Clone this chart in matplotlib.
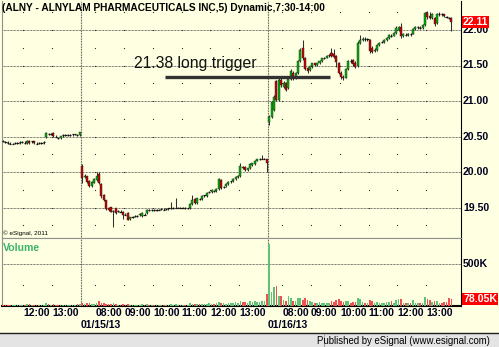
import matplotlib
matplotlib.use("Agg")
import matplotlib.pyplot as plt
from matplotlib.patches import Rectangle
import numpy as np

# ---------------- data ----------------
title = "(ALNY - ALNYLAM PHARMACEUTICALS INC,5) Dynamic,7:30-14:00"
session_dates = ["", "01/15/13", "01/16/13"]
session_start_min = [11 * 60 + 15, 7 * 60 + 30, 7 * 60 + 30]   # first bar time of each session
session_bars = [33, 78, 77]
hour_labels = [["12:00", "13:00"],
               ["08:00", "09:00", "10:00", "11:00", "12:00", "13:00"],
               ["08:00", "09:00", "10:00", "11:00", "12:00", "13:00"]]

# day 1 (01/14/13)
d1_open  = [20.44,20.43,20.42,20.41,20.40,20.40,20.41,20.41,20.42,20.42,20.41,20.44,20.42,20.43,20.41,20.40,20.41,20.41,
            20.49,20.54,20.53,20.55,20.51,20.49,20.48,20.51,20.52,20.52,20.52,20.52,20.52,20.53,20.52]
d1_close = [20.43,20.42,20.41,20.40,20.40,20.41,20.41,20.42,20.42,20.41,20.44,20.41,20.43,20.41,20.40,20.41,20.41,20.42,
            20.55,20.53,20.54,20.51,20.50,20.48,20.50,20.52,20.52,20.52,20.52,20.53,20.53,20.52,20.56]
d1_high  = [20.45,20.44,20.43,20.42,20.41,20.42,20.42,20.43,20.43,20.43,20.45,20.45,20.44,20.44,20.42,20.42,20.42,20.43,
            20.56,20.55,20.55,20.56,20.52,20.50,20.51,20.53,20.53,20.53,20.53,20.54,20.54,20.54,20.57]
d1_low   = [20.42,20.41,20.40,20.39,20.39,20.39,20.40,20.40,20.41,20.40,20.40,20.40,20.41,20.40,20.39,20.39,20.40,20.40,
            20.48,20.52,20.52,20.50,20.49,20.47,20.47,20.50,20.51,20.51,20.51,20.51,20.52,20.51,20.51]

# day 2 (01/15/13)
d2_open  = [20.09,19.93,19.94,19.88,19.80,19.85,19.89,19.97,19.83,19.68,19.60,19.49,19.50,19.45,19.49,19.44,19.45,19.44,
            19.41,19.42,19.34,19.36,19.37,19.38,19.39,19.38,19.41,19.42,19.47,19.46,19.47,19.46,19.47,19.47,19.48,19.47,
            19.48,19.49,19.49,19.50,19.50,19.50,19.50,19.50,19.49,19.49,19.55,19.62,19.56,19.63,19.62,19.66,19.66,19.71,
            19.72,19.74,19.73,19.76,19.89,19.78,19.80,19.83,19.86,19.87,19.90,19.93,19.94,20.07,20.07,20.03,20.05,20.10,
            20.11,20.16,20.18,20.19,20.19,20.18]
d2_close = [19.91,19.95,19.86,19.80,19.86,19.90,19.94,19.84,19.66,19.60,19.48,19.47,19.44,19.45,19.42,19.45,19.44,19.40,
            19.40,19.33,19.36,19.37,19.38,19.38,19.41,19.42,19.40,19.47,19.46,19.47,19.46,19.47,19.47,19.48,19.47,19.48,
            19.49,19.49,19.50,19.50,19.50,19.50,19.50,19.49,19.49,19.55,19.60,19.56,19.63,19.62,19.66,19.67,19.71,19.72,
            19.75,19.73,19.76,19.90,19.77,19.79,19.83,19.86,19.87,19.90,19.93,19.95,20.08,20.05,20.03,20.05,20.11,20.12,
            20.16,20.18,20.19,20.19,20.19,20.13]
d2_high  = [20.11,19.97,19.95,19.89,19.87,19.92,20.00,20.00,19.84,19.69,19.61,19.51,19.51,19.47,19.50,19.46,19.46,19.45,
            19.42,19.43,19.37,19.38,19.39,19.39,19.42,19.43,19.42,19.48,19.48,19.48,19.48,19.48,19.48,19.49,19.49,19.49,
            19.50,19.58,19.51,19.63,19.51,19.51,19.51,19.51,19.50,19.56,19.68,19.63,19.64,19.64,19.67,19.68,19.72,19.73,
            19.76,19.75,19.77,19.92,19.90,19.80,19.84,19.87,19.88,19.91,19.94,19.96,20.12,20.09,20.08,20.06,20.12,20.13,
            20.17,20.19,20.20,20.24,20.20,20.19]
d2_low   = [19.85,19.92,19.85,19.79,19.79,19.84,19.88,19.83,19.64,19.59,19.46,19.45,19.43,19.22,19.41,19.43,19.43,19.34,
            19.39,19.32,19.33,19.35,19.36,19.37,19.38,19.37,19.39,19.41,19.45,19.45,19.45,19.45,19.46,19.46,19.46,19.46,
            19.47,19.48,19.48,19.49,19.49,19.49,19.49,19.48,19.48,19.48,19.54,19.55,19.55,19.61,19.61,19.65,19.65,19.70,
            19.71,19.72,19.72,19.75,19.76,19.77,19.79,19.82,19.85,19.86,19.89,19.92,19.93,20.04,20.02,20.02,20.04,20.09,
            20.10,20.15,20.17,20.18,20.18,20.00]

# day 3 (01/16/13)
d3_open  = [20.70,20.77,20.88,21.28,21.02,21.30,21.20,21.25,21.18,21.31,21.40,21.33,21.40,21.57,21.74,21.60,21.46,21.43,
            21.49,21.53,21.51,21.53,21.57,21.60,21.61,21.64,21.68,21.66,21.63,21.54,21.40,21.34,21.33,21.45,21.57,21.58,
            21.54,21.50,21.82,21.86,21.88,21.87,21.86,21.75,21.70,21.72,21.79,21.82,21.83,21.86,21.89,21.93,21.92,21.96,
            22.00,22.04,21.92,21.94,21.93,21.95,21.95,22.02,22.04,22.04,22.03,22.07,22.24,22.20,22.17,22.17,22.10,22.22,
            22.23,22.22,22.19,22.18,22.17]
d3_close = [20.77,20.98,21.06,21.02,21.30,21.22,21.26,21.16,21.31,21.42,21.33,21.40,21.57,21.72,21.60,21.45,21.42,21.49,
            21.53,21.51,21.53,21.57,21.60,21.61,21.64,21.65,21.63,21.62,21.55,21.40,21.34,21.32,21.45,21.57,21.56,21.52,
            21.48,21.82,21.86,21.88,21.87,21.88,21.70,21.69,21.72,21.79,21.82,21.83,21.86,21.89,21.93,21.92,21.96,22.03,
            22.04,21.91,21.94,21.93,21.95,21.94,22.02,22.04,22.04,22.03,22.07,22.24,22.18,22.17,22.23,22.08,22.22,22.23,
            22.22,22.20,22.18,22.17,22.11]
d3_high  = [20.80,21.00,21.08,21.30,21.32,21.33,21.28,21.27,21.33,21.45,21.42,21.41,21.58,21.74,21.86,21.62,21.48,21.50,
            21.54,21.54,21.54,21.58,21.61,21.62,21.65,21.66,21.75,21.73,21.65,21.55,21.42,21.36,21.46,21.58,21.59,21.59,
            21.56,21.84,21.93,21.90,21.90,21.89,21.88,21.77,21.74,21.80,21.83,21.85,21.87,21.90,21.94,21.95,21.97,22.05,
            22.06,22.10,21.96,21.96,21.96,21.96,22.03,22.05,22.06,22.05,22.08,22.26,22.27,22.25,22.24,22.19,22.24,22.25,
            22.24,22.23,22.20,22.19,22.18]
d3_low   = [20.66,20.76,20.86,21.00,21.00,21.20,21.18,21.14,21.17,21.30,21.30,21.31,21.38,21.55,21.58,21.43,21.40,21.42,
            21.47,21.50,21.50,21.52,21.55,21.59,21.60,21.62,21.62,21.60,21.48,21.38,21.31,21.29,21.32,21.44,21.53,21.50,
            21.46,21.48,21.80,21.84,21.85,21.85,21.68,21.67,21.69,21.71,21.78,21.81,21.82,21.85,21.88,21.90,21.91,21.95,
            21.98,21.89,21.90,21.91,21.92,21.92,21.94,22.00,22.02,22.02,22.02,22.05,22.16,22.15,22.16,22.06,22.09,22.20,
            22.20,22.19,22.17,22.16,21.98]

# volume in thousands
d1_vol = [15,10,8,12,10,8,10,12,15,10,20,25,10,8,12,10,8,15,30,20,15,18,10,8,10,12,10,8,10,12,15,20,28]
d2_vol = [40,25,30,35,20,25,30,55,35,30,25,20,25,30,20,15,15,20,15,25,15,12,10,12,15,20,15,25,15,10,12,10,10,12,10,12,
          15,20,12,25,15,10,12,15,10,30,25,20,25,20,25,20,25,30,20,25,30,45,40,30,25,30,35,30,45,40,60,45,50,40,55,45,
          60,50,45,55,60,140]
d3_vol = [740,170,230,240,120,125,70,65,115,90,60,55,95,90,70,95,75,55,45,40,35,45,40,30,35,40,55,50,75,85,60,45,55,60,
          40,50,45,95,80,45,35,40,70,55,35,45,40,35,40,45,50,55,35,75,80,85,40,30,35,30,75,40,35,30,40,105,80,70,50,60,
          55,40,35,45,50,90,78.05]

trigger_level = 21.335
trigger_text = "21.38 long trigger"
last_price_text = "22.11"
last_vol_text = "78.05K"
price_ticks = [19.50, 20.00, 20.50, 21.00, 21.50, 22.00]

# ---------------- assemble ----------------
O = np.array(d1_open + d2_open + d3_open)
C = np.array(d1_close + d2_close + d3_close)
H = np.array(d1_high + d2_high + d3_high)
L = np.array(d1_low + d2_low + d3_low)
V = np.array(d1_vol + d2_vol + d3_vol)
n = len(O)
x = np.arange(n)

W, Hpx = 499, 347
fig = plt.figure(figsize=(W / 100, Hpx / 100), dpi=100)
BG = "#FFFFE1"
fig.patch.set_facecolor(BG)

def fx(px):
    return px / W

def fy(py):
    return 1 - py / Hpx

FONT = "Liberation Sans"

px_left, px_right = 2, 461
ax = fig.add_axes([fx(px_left), fy(238), fx(px_right - px_left), (238 - 1) / Hpx])
axv = fig.add_axes([fx(px_left), fy(306), fx(px_right - px_left), (306 - 238) / Hpx])

bar_px = 2.397
x0_px = 3.1
xlim = ((px_left - x0_px) / bar_px, (px_right - x0_px) / bar_px)

# price scale: 22.00 at y=30px, 71 px per 1.00
ylim = (22.0 - (238 - 30) / 71.0, 22.0 + (30 - 1) / 71.0)
for a in (ax, axv):
    a.set_facecolor(BG)
    a.set_xlim(*xlim)
    a.set_xticks([])
    a.set_yticks([])
    for s in a.spines.values():
        s.set_color("#909090")
        s.set_linewidth(0.8)
ax.set_ylim(*ylim)
axv.set_ylim(0, (306 - 238) * 500.0 / 42.0)
ax.spines["right"].set_color("#000000")
axv.spines["right"].set_color("#000000")
axv.spines["bottom"].set_color("#000000")
axv.spines["bottom"].set_linewidth(1.5)
ax.spines["top"].set_visible(False)

# session boundaries and hour ticks
bounds = np.cumsum([0] + session_bars) - 0.5
hour_pos = []
for s in range(3):
    start = bounds[s]
    for lab in hour_labels[s]:
        hh, mm = map(int, lab.split(":"))
        off = (hh * 60 + mm - session_start_min[s]) / 5.0
        hour_pos.append((start + off, lab))

DOT = (0, (0.72, 0.72))
for lvl in price_ticks:
    ax.axhline(lvl, color="#505050", lw=0.72, ls=DOT, zorder=1)
axv.axhline(500, color="#505050", lw=0.72, ls=DOT, zorder=1)
for b in bounds[1:-1]:
    ax.axvline(b, color="#404040", lw=0.8, ls=DOT, zorder=1)
    axv.axvline(b, color="#404040", lw=0.8, ls=DOT, zorder=1)

quarter_levels = np.arange(19.25, 22.3, 0.25)
for hp, _ in hour_pos:
    ax.plot([hp] * len(quarter_levels), quarter_levels, ls="none", marker="s",
            ms=0.8, mec="none", mfc="#303030", zorder=1)
    axv.plot([hp], [250], ls="none", marker="s", ms=0.8, mec="none", mfc="#303030", zorder=1)

# candles
up = C >= O
green, red = "#00B400", "#C80000"
ax.vlines(x, L, H, color="#303030", lw=0.75, zorder=3)
body_lo = np.minimum(O, C)
body_h = np.abs(C - O)
flat = body_h < 0.012
cols = np.where(up, green, red)
ax.bar(x[~flat], body_h[~flat], bottom=body_lo[~flat], width=0.85,
       color=cols[~flat], edgecolor="#202020", linewidth=0.3, zorder=4)
ax.hlines(C[flat], x[flat] - 0.45, x[flat] + 0.45, color="#101010", lw=0.9, zorder=4)

# volume
vcols = np.where(up, "#5EC27A", "#F05050")
axv.bar(x, V, width=0.7, color=vcols, linewidth=0, zorder=3)

# trigger line
sx = lambda px: (px - x0_px) / bar_px
ax.hlines(trigger_level, sx(165), sx(330), color="#333333", lw=2.4, zorder=6)
ax.text(sx(134), trigger_level + 0.085, trigger_text, fontsize=11.3, family=FONT,
        color="#111111", ha="left", va="bottom", zorder=7)

# title
fig.text(fx(2), fy(8), title, fontsize=7.3, family=FONT, weight="bold",
         ha="left", va="center", color="#000000")

# right axis labels
for lvl in price_ticks:
    ypx = 30 + (22.0 - lvl) * 71
    fig.text(fx(463), fy(ypx), f"{lvl:.2f}", fontsize=7.6, family=FONT, weight="bold",
             ha="left", va="center", color="#000020")
fig.text(fx(463), fy(264), "500K", fontsize=7.6, family=FONT, weight="bold",
         ha="left", va="center", color="#000020")

lp_y = 30 + (22.0 - float(last_price_text)) * 71
fig.text(fx(463), fy(lp_y), last_price_text, fontsize=7.6, family=FONT, weight="bold",
         ha="left", va="center", color="white",
         bbox=dict(boxstyle="square,pad=0.1", fc="#FF0000", ec="none"))
lv_y = 306 - 78.05 * 42.0 / 500.0
fig.text(fx(463), fy(lv_y), last_vol_text, fontsize=7.6, family=FONT, weight="bold",
         ha="left", va="center", color="white",
         bbox=dict(boxstyle="square,pad=0.1", fc="#FF0000", ec="none"))

# time labels
for hp, lab in hour_pos:
    px = x0_px + hp * bar_px
    fig.text(fx(px), fy(313.5), lab, fontsize=7.5, family=FONT, weight="bold",
             ha="left", va="center", color="#000020")
for s in range(1, 3):
    px = x0_px + bounds[s] * bar_px
    fig.text(fx(px), fy(325.5), session_dates[s], fontsize=7.5, family=FONT, weight="bold",
             ha="left", va="center", color="#000020")

# panel labels
fig.text(fx(3), fy(248), "Volume", fontsize=7.6, family=FONT, weight="bold",
         ha="left", va="center", color="#3CB371")
fig.text(fx(3), fy(233), "\u00a9 eSignal, 2011", fontsize=4.6, family=FONT,
         ha="left", va="center", color="#000000")

# status bar
fig.patches.append(Rectangle((0, 0), 1, fy(333), transform=fig.transFigure,
                             facecolor="#E4E4E4", edgecolor="none", zorder=0))
fig.lines.append(plt.Line2D([0, 1], [fy(333), fy(333)], transform=fig.transFigure,
                            color="#202020", lw=1.0))
fig.lines.append(plt.Line2D([fx(324), fx(324)], [fy(334), fy(347)], transform=fig.transFigure,
                            color="#A0A0A0", lw=0.8))
fig.text(fx(490), fy(340.5), "Published by eSignal (www.esignal.com)", fontsize=6.9,
         family=FONT, ha="right", va="center", color="#000000")

fig.savefig("out.png", dpi=100, facecolor=fig.get_facecolor())
